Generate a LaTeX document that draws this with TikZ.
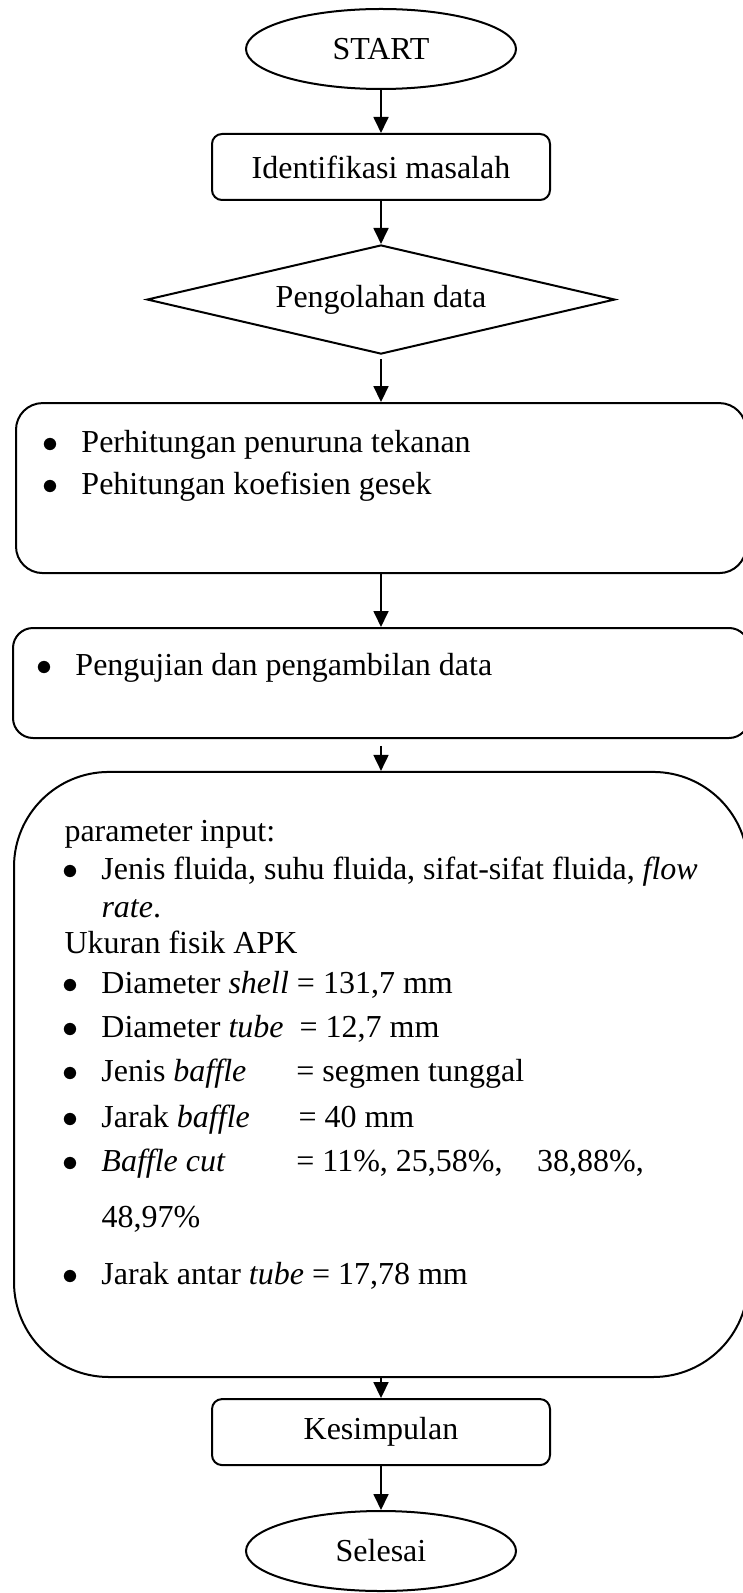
\documentclass[tikz,border=0pt]{standalone}
\usepackage{fontspec}
\setmainfont{Liberation Serif}
\usetikzlibrary{shapes.geometric,arrows.meta}
\newcommand\bul{\makebox[14.6pt][l]{$\bullet$}}
\begin{document}
\begin{tikzpicture}[x=0.375pt, y=-0.375pt,
  every node/.style={font={\fontsize{12}{14}\selectfont}, inner sep=0pt},
  terminal/.style={draw=black, line width=.75pt, ellipse, minimum width=101.25pt, minimum height=30pt},
  process/.style={draw=black, line width=.75pt, rectangle, rounded corners=3.75pt, minimum width=126.75pt, minimum height=24.75pt},
  decision/.style={draw=black, line width=.75pt, diamond, aspect=4.3, minimum width=175.5pt, minimum height=40.9pt},
  panel/.style={draw=black, line width=.75pt, rectangle},
  txt/.style={anchor=base west},
  flow/.style={draw=black, line width=.75pt, -{Triangle[length=6pt,width=5.6pt]}}]
\useasboundingbox (0,0) rectangle (742,1593);
\node[terminal] (start) at (381,49) {START};
\node[process, below of=start, node distance=44.25pt] (ident) {Identifikasi masalah};
\node[decision, below of=ident, node distance=49.7pt] (olah) {Pengolahan data};
\node[panel, below of=olah, node distance=70.7pt, minimum width=273.75pt, minimum height=63.75pt, rounded corners=10pt] (hitung) {};
\node[panel, below of=hitung, node distance=73.1pt, minimum width=276pt, minimum height=41.25pt, rounded corners=7.5pt] (uji) {};
\node[panel, below of=uji, node distance=146.8pt, minimum width=275.25pt, minimum height=226.9pt, rounded corners=35.6pt] (param) {};
\node[process, below of=param, node distance=134.1pt] (simpul) {Kesimpulan};
\node[terminal, below of=simpul, node distance=44.6pt] (selesai) {Selesai};
% isi kotak
\node[txt] (h1) at (42,452) {\bul Perhitungan penuruna tekanan};
\node[txt] (h2) at (42,494) {\bul Pehitungan koefisien gesek};
\node[txt] (u1) at (36,675) {\bul Pengujian dan pengambilan data};
\node[txt] (p1) at (64,841) {parameter input:};
\node[txt] (p2) at (62,879) {\bul Jenis fluida, suhu fluida, sifat-sifat fluida, \emph{flow}};
\node[txt] (p3) at (101,917) {\emph{rate}.};
\node[txt] (p4) at (64,953) {Ukuran fisik APK};
\node[txt] (p5) at (62,993) {\bul Diameter \emph{shell} = 131,7 mm};
\node[txt] (p6) at (62,1037) {\bul Diameter \emph{tube}\ \ = 12,7 mm};
\node[txt] (p7) at (62,1081) {\bul \makebox[73.1pt][l]{Jenis \emph{baffle}}= segmen tunggal};
\node[txt] (p8) at (62,1127) {\bul \makebox[73.9pt][l]{Jarak \emph{baffle}}= 40 mm};
\node[txt] (p9) at (62,1171) {\bul \makebox[73.1pt][l]{\emph{Baffle cut}}= 11\%, 25,58\%,\hspace{10pt} 38,88\%,};
\node[txt] (p10) at (101,1227) {48,97\%};
\node[txt] (p11) at (62,1284) {\bul Jarak antar \emph{tube} = 17,78 mm};
% panah
\draw[flow] (start) -- (ident);
\draw[flow] (ident) -- (olah);
\draw[flow, shorten <=1.5pt] (olah) -- (hitung);
\draw[flow] (hitung) -- (uji);
\draw[flow, shorten <=2.6pt] (uji) -- (param);
\draw[flow] (param) -- (simpul);
\draw[flow] (simpul) -- (selesai);
\end{tikzpicture}
\end{document}
